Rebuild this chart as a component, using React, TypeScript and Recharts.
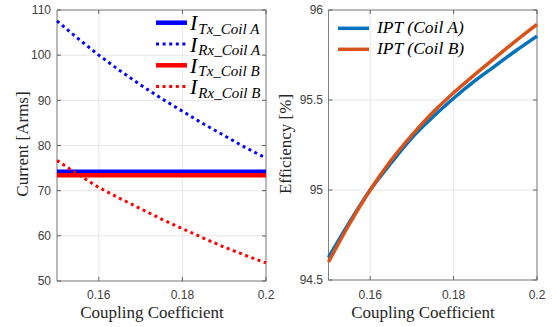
import React from 'react';
import { LineChart, Line, XAxis, YAxis, CartesianGrid, ReferenceArea } from 'recharts';

// ---- data ----
const couplingK = [0.15, 0.155, 0.16, 0.165, 0.17, 0.175, 0.18, 0.185, 0.19, 0.195, 0.2];
const iTxCoilA = [74.2, 74.2, 74.2, 74.2, 74.2, 74.2, 74.2, 74.2, 74.2, 74.2, 74.2];
const iRxCoilA = [107.6, 103.7, 100.0, 96.6, 93.4, 90.4, 87.6, 84.8, 82.2, 79.6, 77.2];
const iTxCoilB = [73.4, 73.4, 73.4, 73.4, 73.4, 73.4, 73.4, 73.4, 73.4, 73.4, 73.4];
const iRxCoilB = [76.7, 73.6, 70.7, 68.3, 66.0, 63.7, 61.6, 59.5, 57.5, 55.7, 54.0];
const effCoilA = [94.625, 94.82, 95.0, 95.15, 95.29, 95.405, 95.51, 95.605, 95.69, 95.775, 95.855];
const effCoilB = [94.6, 94.81, 95.0, 95.165, 95.305, 95.43, 95.54, 95.64, 95.735, 95.83, 95.92];

const kTicks = [0.16, 0.18, 0.2];
const currentTicks = [50, 60, 70, 80, 90, 100, 110];
const effTicks = [94.5, 95, 95.5, 96];

const xTitle = 'Coupling Coefficient';
const currentTitle = 'Current [Arms]';
const effTitle = 'Efficiency [%]';
const currentLegendMain = 'I';
const currentLegendSubs = ['Tx_Coil A', 'Rx_Coil A', 'Tx_Coil B', 'Rx_Coil B'];
const effLegend = ['IPT (Coil A)', 'IPT (Coil B)'];

const currentData = couplingK.map((k, i) => ({
  k,
  txA: iTxCoilA[i],
  rxA: iRxCoilA[i],
  txB: iTxCoilB[i],
  rxB: iRxCoilB[i],
}));
const effData = couplingK.map((k, i) => ({ k, a: effCoilA[i], b: effCoilB[i] }));

// ---- styles ----
const BLUE = '#0000ff';
const RED = '#ff0000';
const MBLUE = '#0072BD';
const MORANGE = '#D95319';
const TICK_FONT = "'Liberation Sans', Arial, sans-serif";
const SERIF = "'Liberation Serif', 'Times New Roman', serif";
const TICK_COLOR = '#404040';
const TICK_MARK = '#606060';
const DOT_DASH = '3 3.6';

function makeXTick(top: number, bottom: number) {
  return (props: any) => {
    const { x, y, payload } = props;
    return (
      <g>
        <line x1={x} x2={x} y1={bottom} y2={bottom - 4} stroke={TICK_MARK} />
        <line x1={x} x2={x} y1={top} y2={top + 4} stroke={TICK_MARK} />
        <text x={x} y={y} dy="0.71em" textAnchor="middle" fontFamily={TICK_FONT} fontSize={12} fill={TICK_COLOR}>
          {String(payload.value)}
        </text>
      </g>
    );
  };
}

function makeYTick(left: number, right: number) {
  return (props: any) => {
    const { x, y, payload } = props;
    return (
      <g>
        <line x1={left} x2={left + 4} y1={y} y2={y} stroke={TICK_MARK} />
        <line x1={right} x2={right - 4} y1={y} y2={y} stroke={TICK_MARK} />
        <text x={x} y={y} dy="0.355em" textAnchor="end" fontFamily={TICK_FONT} fontSize={12} fill={TICK_COLOR}>
          {String(payload.value)}
        </text>
      </g>
    );
  };
}

const L_LEFT = 57;
const L_RIGHT = 266;
const TOP = 10;
const L_BOTTOM = 281;
const R_LEFT = 48.5; // within right chart
const R_RIGHT = 257;
const R_BOTTOM = 280;

export default function App() {
  return (
    <div style={{ position: 'absolute', left: 0, top: 0, width: 558, height: 327, background: '#fff' }}>
      <div style={{ position: 'absolute', left: 0, top: 0 }}>
        <LineChart width={280} height={327} data={currentData} margin={{ top: TOP, right: 280 - L_RIGHT, bottom: 0, left: 0 }}>
          <CartesianGrid stroke="#e6e6e6" />
          <XAxis
            dataKey="k"
            type="number"
            domain={[0.15, 0.2]}
            ticks={kTicks}
            height={327 - L_BOTTOM}
            axisLine={false}
            tickLine={false}
            tickSize={0}
            tickMargin={9}
            interval={0}
            tick={makeXTick(TOP, L_BOTTOM)}
          />
          <YAxis
            type="number"
            domain={[50, 110]}
            ticks={currentTicks}
            width={L_LEFT}
            axisLine={false}
            tickLine={false}
            tickSize={0}
            tickMargin={6}
            interval={0}
            tick={makeYTick(L_LEFT, L_RIGHT)}
          />
          <ReferenceArea x1={0.15} x2={0.2} y1={50} y2={110} fill="none" stroke="#808080" strokeWidth={1} ifOverflow="visible" />
          <Line dataKey="txA" stroke={BLUE} strokeWidth={4.5} dot={false} isAnimationActive={false} />
          <Line dataKey="rxA" stroke={BLUE} strokeWidth={3} strokeDasharray={DOT_DASH} dot={false} isAnimationActive={false} />
          <Line dataKey="txB" stroke={RED} strokeWidth={4.5} dot={false} isAnimationActive={false} />
          <Line dataKey="rxB" stroke={RED} strokeWidth={3} strokeDasharray={DOT_DASH} dot={false} isAnimationActive={false} />
        </LineChart>
      </div>
      <div style={{ position: 'absolute', left: 280, top: 0 }}>
        <LineChart width={278} height={327} data={effData} margin={{ top: TOP, right: 278 - R_RIGHT, bottom: 0, left: 0 }}>
          <CartesianGrid stroke="#e6e6e6" />
          <XAxis
            dataKey="k"
            type="number"
            domain={[0.15, 0.2]}
            ticks={kTicks}
            height={327 - R_BOTTOM}
            axisLine={false}
            tickLine={false}
            tickSize={0}
            tickMargin={10}
            interval={0}
            tick={makeXTick(TOP, R_BOTTOM)}
          />
          <YAxis
            type="number"
            domain={[94.5, 96]}
            ticks={effTicks}
            width={R_LEFT}
            axisLine={false}
            tickLine={false}
            tickSize={0}
            tickMargin={5.5}
            interval={0}
            tick={makeYTick(R_LEFT, R_RIGHT)}
          />
          <ReferenceArea x1={0.15} x2={0.2} y1={94.5} y2={96} fill="none" stroke="#808080" strokeWidth={1} ifOverflow="visible" />
          <Line dataKey="a" type="monotone" stroke={MBLUE} strokeWidth={3.5} dot={false} isAnimationActive={false} />
          <Line dataKey="b" type="monotone" stroke={MORANGE} strokeWidth={3.5} dot={false} isAnimationActive={false} />
        </LineChart>
      </div>
      <svg width={558} height={327} style={{ position: 'absolute', left: 0, top: 0, pointerEvents: 'none' }}>
        {/* axis titles */}
        <text x={152} y={318} textAnchor="middle" fontFamily={SERIF} fontSize={17} fill="#262626">{xTitle}</text>
        <text x={423} y={318} textAnchor="middle" fontFamily={SERIF} fontSize={17} fill="#262626">{xTitle}</text>
        <text transform="translate(28,144) rotate(-90)" textAnchor="middle" fontFamily={SERIF} fontSize={17} fill="#262626">{currentTitle}</text>
        <text transform="translate(291,144) rotate(-90)" textAnchor="middle" fontFamily={SERIF} fontSize={17} fill="#262626">{effTitle}</text>
        {/* left legend */}
        {currentLegendSubs.map((sub, i) => {
          const y = 22.7 + i * 21.3;
          const color = i < 2 ? BLUE : RED;
          const dotted = i % 2 === 1;
          return (
            <g key={sub}>
              <line x1={156} x2={187} y1={y} y2={y} stroke={color} strokeWidth={dotted ? 3 : 4.5} strokeDasharray={dotted ? DOT_DASH : undefined} />
              <text x={190} y={y + 7.5} fontFamily={SERIF} fontStyle="italic" fill="#000">
                <tspan fontSize={22}>{currentLegendMain}</tspan>
                <tspan fontSize={15} dx={1} dy={3.5}>{sub}</tspan>
              </text>
            </g>
          );
        })}
        {/* right legend */}
        {effLegend.map((label, i) => {
          const y = 28.3 + i * 21;
          const color = i === 0 ? MBLUE : MORANGE;
          return (
            <g key={label}>
              <line x1={338} x2={369} y1={y} y2={y} stroke={color} strokeWidth={3.5} />
              <text x={377} y={y + 5} fontFamily={SERIF} fontStyle="italic" fontSize={17.5} fill="#000">{label}</text>
            </g>
          );
        })}
      </svg>
    </div>
  );
}
